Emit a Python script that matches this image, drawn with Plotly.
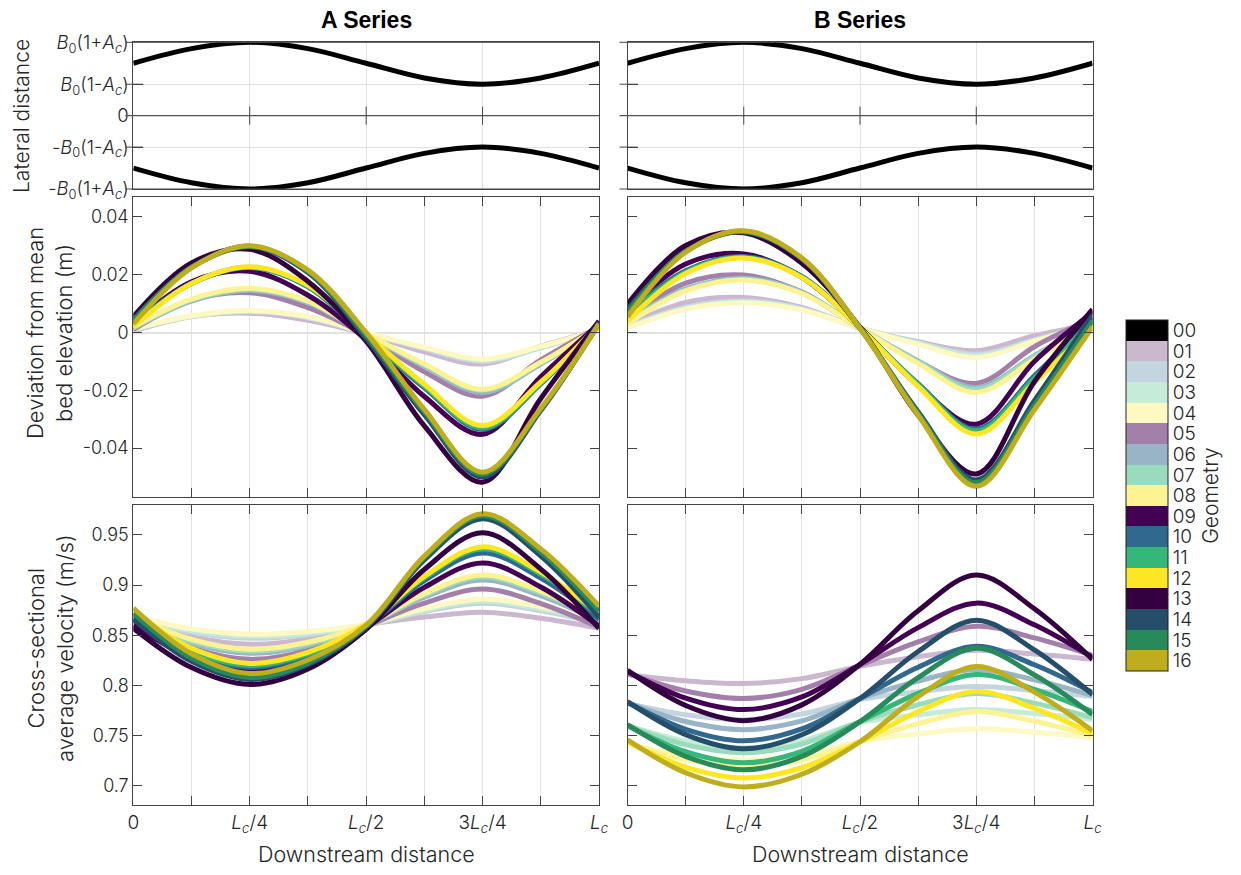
import plotly.graph_objects as go

# ---------------- data ----------------
X = [0, 0.125, 0.25, 0.375, 0.5, 0.625, 0.75, 0.875, 1.0]
X_MAJOR = [0, 0.25, 0.5, 0.75, 1.0]
X_LABELS = ["0", "<i>L</i><sub><i>c</i></sub>/4", "<i>L</i><sub><i>c</i></sub>/2",
            "3<i>L</i><sub><i>c</i></sub>/4", "<i>L</i><sub><i>c</i></sub>"]
GEOMS = ["00", "01", "02", "03", "04", "05", "06", "07", "08", "09", "10", "11", "12", "13", "14", "15", "16"]
COLORS = ["#000000", "#CBB8CF", "#C5D5DF", "#C6EBD9", "#FEF8C2", "#A280AA", "#98B4C6", "#9ADBBC",
          "#FEF392", "#440154", "#31688E", "#35B779", "#FDE725", "#33013F", "#254E6B", "#28895B", "#BEAD1C"]

BANK_UPPER = [1.0, 1.28, 1.4, 1.28, 1.0, 0.72, 0.6, 0.72, 1.0]
BANK_LOWER = [-1.0, -1.28, -1.4, -1.28, -1.0, -0.72, -0.6, -0.72, -1.0]
LAT_TICKS = [-1.4, -0.6, 0, 0.6, 1.4]
LAT_LABELS = ["-<i>B</i><sub>0</sub>(1+<i>A</i><sub><i>c</i></sub>)", "-<i>B</i><sub>0</sub>(1-<i>A</i><sub><i>c</i></sub>)", "0",
              "<i>B</i><sub>0</sub>(1-<i>A</i><sub><i>c</i></sub>)", "<i>B</i><sub>0</sub>(1+<i>A</i><sub><i>c</i></sub>)"]

# bed elevation deviation (m), A series
BED_A_01 = [0.0005, 0.0055, 0.0067, 0.0042, -0.0005, -0.0067, -0.0109, -0.0047, 0.001]
BED_A_02 = [0.001, 0.0055, 0.0072, 0.0051, -0.0002, -0.0056, -0.0100, -0.0053, 0.001]
BED_A_03 = [0.001, 0.0056, 0.0074, 0.0053, -0.0001, -0.0053, -0.0096, -0.0050, 0.001]
BED_A_04 = [0.0012, 0.0058, 0.0076, 0.0055, 0.0, -0.0051, -0.0092, -0.0048, 0.001]
BED_A_05 = [0.001, 0.0112, 0.0138, 0.0086, -0.001, -0.0136, -0.0220, -0.0095, 0.002]
BED_A_06 = [0.0015, 0.0109, 0.0146, 0.0103, -0.0007, -0.0117, -0.0207, -0.0109, 0.002]
BED_A_07 = [0.0017, 0.0113, 0.0150, 0.0107, -0.0005, -0.0112, -0.0200, -0.0105, 0.002]
BED_A_08 = [0.002, 0.0116, 0.0153, 0.0109, -0.0003, -0.0109, -0.0196, -0.0103, 0.002]
BED_A_09 = [0.003, 0.0176, 0.0212, 0.0129, -0.0025, -0.0221, -0.0352, -0.0153, 0.003]
BED_A_10 = [0.003, 0.0170, 0.0225, 0.0158, -0.0015, -0.0191, -0.0335, -0.0178, 0.003]
BED_A_11 = [0.0025, 0.0170, 0.0226, 0.0160, -0.001, -0.0186, -0.0330, -0.0175, 0.003]
BED_A_12 = [0.002, 0.0170, 0.0228, 0.0163, -0.0005, -0.0179, -0.0322, -0.0171, 0.003]
BED_A_13 = [0.0055, 0.0241, 0.0288, 0.0177, -0.003, -0.0323, -0.0518, -0.0228, 0.004]
BED_A_14 = [0.0045, 0.0226, 0.0297, 0.0208, -0.002, -0.0284, -0.0500, -0.0270, 0.0035]
BED_A_15 = [0.004, 0.0226, 0.0299, 0.0212, -0.001, -0.0274, -0.0490, -0.0266, 0.003]
BED_A_16 = [0.003, 0.0224, 0.0300, 0.0216, 0.0, -0.0266, -0.0483, -0.0262, 0.003]

# bed elevation deviation (m), B series
BED_B_01 = [0.0025, 0.0104, 0.0121, 0.0087, 0.0015, -0.0032, -0.0063, -0.0011, 0.003]
BED_B_02 = [0.002, 0.0088, 0.0110, 0.0083, 0.0015, -0.0035, -0.0075, -0.0025, 0.003]
BED_B_03 = [0.0018, 0.0084, 0.0106, 0.0081, 0.0015, -0.0037, -0.0080, -0.0027, 0.003]
BED_B_04 = [0.0015, 0.0081, 0.0103, 0.0078, 0.0015, -0.0041, -0.0086, -0.0030, 0.003]
BED_B_05 = [0.0045, 0.0171, 0.0199, 0.0140, 0.0015, -0.0100, -0.0176, -0.0049, 0.005]
BED_B_06 = [0.004, 0.0151, 0.0188, 0.0140, 0.0015, -0.0098, -0.0190, -0.0080, 0.004]
BED_B_07 = [0.0035, 0.0147, 0.0184, 0.0137, 0.0015, -0.0102, -0.0197, -0.0083, 0.004]
BED_B_08 = [0.003, 0.0144, 0.0182, 0.0135, 0.0015, -0.0107, -0.0207, -0.0093, 0.003]
BED_B_09 = [0.0075, 0.0237, 0.0272, 0.0191, 0.0018, -0.0183, -0.0317, -0.0100, 0.007]
BED_B_10 = [0.0065, 0.0214, 0.0263, 0.0194, 0.0015, -0.0177, -0.0334, -0.0150, 0.005]
BED_B_11 = [0.0055, 0.0209, 0.0260, 0.0191, 0.0015, -0.0180, -0.0340, -0.0158, 0.004]
BED_B_12 = [0.004, 0.0204, 0.0258, 0.0190, 0.0015, -0.0186, -0.0351, -0.0173, 0.002]
BED_B_13 = [0.0098, 0.0301, 0.0345, 0.0240, 0.0018, -0.0286, -0.0489, -0.0170, 0.008]
BED_B_14 = [0.008, 0.0281, 0.0348, 0.0255, 0.0015, -0.0274, -0.0510, -0.0236, 0.006]
BED_B_15 = [0.007, 0.0280, 0.0350, 0.0256, 0.0015, -0.0279, -0.0520, -0.0251, 0.004]
BED_B_16 = [0.0055, 0.0278, 0.0352, 0.0258, 0.0015, -0.0286, -0.0532, -0.0267, 0.002]

# cross-sectional average velocity (m/s), A series
VEL_A_01 = [0.866, 0.8485, 0.841, 0.8463, 0.860, 0.8681, 0.873, 0.8669, 0.857]
VEL_A_02 = [0.867, 0.853, 0.847, 0.8506, 0.860, 0.8736, 0.882, 0.8744, 0.862]
VEL_A_03 = [0.868, 0.8547, 0.849, 0.8521, 0.860, 0.8749, 0.884, 0.8764, 0.864]
VEL_A_04 = [0.869, 0.8564, 0.851, 0.8538, 0.861, 0.8765, 0.886, 0.8784, 0.866]
VEL_A_05 = [0.864, 0.8374, 0.826, 0.8352, 0.859, 0.8819, 0.896, 0.8816, 0.858]
VEL_A_06 = [0.866, 0.8422, 0.832, 0.8398, 0.860, 0.8879, 0.905, 0.8894, 0.864]
VEL_A_07 = [0.867, 0.8439, 0.834, 0.8413, 0.860, 0.8898, 0.908, 0.8920, 0.866]
VEL_A_08 = [0.869, 0.8459, 0.836, 0.8430, 0.861, 0.8914, 0.910, 0.8940, 0.868]
VEL_A_09 = [0.860, 0.8278, 0.814, 0.8263, 0.858, 0.8977, 0.922, 0.8980, 0.859]
VEL_A_10 = [0.866, 0.8324, 0.818, 0.8295, 0.859, 0.9043, 0.932, 0.9069, 0.866]
VEL_A_11 = [0.869, 0.8347, 0.820, 0.8312, 0.860, 0.9071, 0.936, 0.9109, 0.870]
VEL_A_12 = [0.872, 0.837, 0.822, 0.8329, 0.861, 0.9087, 0.938, 0.9129, 0.872]
VEL_A_13 = [0.857, 0.8178, 0.801, 0.8164, 0.856, 0.9155, 0.952, 0.9159, 0.857]
VEL_A_14 = [0.866, 0.824, 0.806, 0.8206, 0.858, 0.925, 0.966, 0.9288, 0.868]
VEL_A_15 = [0.872, 0.8272, 0.808, 0.8223, 0.859, 0.9272, 0.969, 0.9329, 0.874]
VEL_A_16 = [0.877, 0.8315, 0.812, 0.8254, 0.860, 0.9288, 0.971, 0.936, 0.879]

# cross-sectional average velocity (m/s), B series
VEL_B_01 = [0.811, 0.8047, 0.802, 0.8068, 0.819, 0.8286, 0.835, 0.8314, 0.826]
VEL_B_02 = [0.782, 0.7708, 0.766, 0.7716, 0.786, 0.7938, 0.799, 0.795, 0.789]
VEL_B_03 = [0.760, 0.7446, 0.738, 0.745, 0.763, 0.7708, 0.776, 0.772, 0.766]
VEL_B_04 = [0.741, 0.7305, 0.726, 0.731, 0.744, 0.7518, 0.757, 0.7534, 0.748]
VEL_B_05 = [0.812, 0.7945, 0.787, 0.7962, 0.820, 0.8434, 0.859, 0.8474, 0.830]
VEL_B_06 = [0.783, 0.7641, 0.756, 0.7647, 0.787, 0.8044, 0.816, 0.8056, 0.790]
VEL_B_07 = [0.760, 0.7411, 0.733, 0.7417, 0.764, 0.7808, 0.792, 0.7824, 0.768]
VEL_B_08 = [0.743, 0.7262, 0.719, 0.726, 0.744, 0.762, 0.774, 0.7644, 0.750]
VEL_B_09 = [0.814, 0.7874, 0.776, 0.7886, 0.821, 0.8576, 0.882, 0.8604, 0.828]
VEL_B_10 = [0.783, 0.7564, 0.745, 0.7568, 0.787, 0.8182, 0.839, 0.8206, 0.793]
VEL_B_11 = [0.760, 0.7341, 0.723, 0.7345, 0.764, 0.7922, 0.811, 0.7962, 0.774]
VEL_B_12 = [0.744, 0.7188, 0.708, 0.7181, 0.744, 0.774, 0.794, 0.7772, 0.752]
VEL_B_13 = [0.815, 0.780, 0.765, 0.7807, 0.821, 0.8744, 0.910, 0.8764, 0.826]
VEL_B_14 = [0.784, 0.7511, 0.737, 0.751, 0.787, 0.8338, 0.865, 0.8354, 0.791]
VEL_B_15 = [0.761, 0.7295, 0.716, 0.7294, 0.764, 0.8078, 0.837, 0.8106, 0.771]
VEL_B_16 = [0.746, 0.7131, 0.699, 0.7116, 0.744, 0.789, 0.819, 0.7934, 0.755]

BED_TICKS = [-0.04, -0.02, 0, 0.02, 0.04]
BED_LABELS = ["-0.04", "-0.02", "0", "0.02", "0.04"]
VEL_TICKS = [0.7, 0.75, 0.8, 0.85, 0.9, 0.95]
VEL_LABELS = ["0.7", "0.75", "0.8", "0.85", "0.9", "0.95"]

BED_A = [BED_A_01, BED_A_02, BED_A_03, BED_A_04, BED_A_05, BED_A_06, BED_A_07, BED_A_08,
         BED_A_09, BED_A_10, BED_A_11, BED_A_12, BED_A_13, BED_A_14, BED_A_15, BED_A_16]
BED_B = [BED_B_01, BED_B_02, BED_B_03, BED_B_04, BED_B_05, BED_B_06, BED_B_07, BED_B_08,
         BED_B_09, BED_B_10, BED_B_11, BED_B_12, BED_B_13, BED_B_14, BED_B_15, BED_B_16]
VEL_A = [VEL_A_01, VEL_A_02, VEL_A_03, VEL_A_04, VEL_A_05, VEL_A_06, VEL_A_07, VEL_A_08,
         VEL_A_09, VEL_A_10, VEL_A_11, VEL_A_12, VEL_A_13, VEL_A_14, VEL_A_15, VEL_A_16]
VEL_B = [VEL_B_01, VEL_B_02, VEL_B_03, VEL_B_04, VEL_B_05, VEL_B_06, VEL_B_07, VEL_B_08,
         VEL_B_09, VEL_B_10, VEL_B_11, VEL_B_12, VEL_B_13, VEL_B_14, VEL_B_15, VEL_B_16]

# ---------------- layout geometry (page pixels) ----------------
PAGE_W, PAGE_H = 1241, 875
OFF = 8  # default body margin of the html page
W, H = PAGE_W - 2 * OFF, PAGE_H - 2 * OFF
XL = (133.3, 599.0)
XR = (627.5, 1092.5)
YT = (42.3, 189.0)
YM = (196.7, 497.3)
YB = (504.7, 805.0)
FONT = "Inter, Roboto, 'Liberation Sans', Arial, sans-serif"
AX = "#444444"
GRID = "#e2e2e2"
TXT = "#262626"


def fx(px):
    return (px - OFF) / W


def fy(py):
    return 1 - (py - OFF) / H


def dx(p):
    return [fx(p[0]), fx(p[1])]


def dy(p):
    return [fy(p[1]), fy(p[0])]


fig = go.Figure()

# top panels: channel banks
for k in (1, 2):
    for yv in (BANK_UPPER, BANK_LOWER):
        fig.add_trace(go.Scatter(x=X, y=yv, mode="lines", line=dict(color="black", width=5, shape="spline"),
                                 xaxis="x" if k == 1 else "x2", yaxis="y" if k == 1 else "y2",
                                 showlegend=False, hoverinfo="skip"))

panels = [(BED_A, 3), (BED_B, 4), (VEL_A, 5), (VEL_B, 6)]
for data, k in panels:
    for i, ys in enumerate(data):
        fig.add_trace(go.Scatter(x=X, y=ys, mode="lines",
                                 line=dict(color=COLORS[i + 1], width=5, shape="spline", smoothing=1.0),
                                 xaxis=f"x{k}", yaxis=f"y{k}", name=GEOMS[i + 1],
                                 showlegend=False))

# colour bar for geometry
n = len(COLORS)
rev = COLORS[::-1]
cscale = []
for i, c in enumerate(rev):
    cscale.append([i / n, c])
    cscale.append([(i + 1) / n, c])
fig.add_trace(go.Scatter(
    x=[0.5], y=[0], mode="markers", xaxis="x", yaxis="y", showlegend=False, hoverinfo="skip",
    marker=dict(size=0.1, opacity=0, color=[0], colorscale=cscale, cmin=-0.5, cmax=n - 0.5, showscale=True,
                colorbar=dict(x=fx(1126), xanchor="left", y=fy(495.5), yanchor="middle",
                              len=351 / H, lenmode="fraction", thickness=42, thicknessmode="pixels",
                              xpad=0, ypad=0, outlinewidth=1, outlinecolor="#222",
                              tickvals=list(range(n)), ticktext=GEOMS[::-1], ticks="",
                              tickfont=dict(size=19, color=TXT, family=FONT, weight=300),
                              title=dict(text="Geometry", side="right",
                                         font=dict(size=21, color=TXT, family=FONT, weight=300))))))

tickfont = dict(size=18, color=TXT, family=FONT, weight=300)

layout = dict(
    width=W, height=H, margin=dict(l=0, r=0, t=0, b=0, autoexpand=False), paper_bgcolor="white",
    plot_bgcolor="white", font=dict(family=FONT, color=TXT, weight=300), showlegend=False,
)

# top axes
for k, xp in ((1, XL), (2, XR)):
    xs = "xaxis" if k == 1 else "xaxis2"
    ys = "yaxis" if k == 1 else "yaxis2"
    layout[xs] = dict(domain=dx(xp), range=[0, 1], anchor="y" if k == 1 else "y2", automargin=False,
                      tickvals=[0.25, 0.5, 0.75], showticklabels=False, ticks="",
                      showgrid=True, gridcolor=GRID, gridwidth=1, zeroline=False,
                      showline=True, linecolor=AX, linewidth=1, mirror=True)
    layout[ys] = dict(domain=dy(YT), range=[-1.4, 1.4], anchor="x" if k == 1 else "x2", automargin=False,
                      tickvals=LAT_TICKS, ticktext=LAT_LABELS, showticklabels=(k == 1),
                      ticks="inside", ticklen=10, tickcolor=AX, tickwidth=1,
                      showgrid=True, gridcolor=GRID, zeroline=False,
                      tickfont=dict(size=18.5, color=TXT, family=FONT, weight=300),
                      showline=True, linecolor=AX, linewidth=1, mirror="ticks")

for k, xp, yp, tv, tt, rng, lab in (
        (3, XL, YM, BED_TICKS, BED_LABELS, [-0.057, 0.047], True),
        (4, XR, YM, BED_TICKS, BED_LABELS, [-0.057, 0.047], False),
        (5, XL, YB, VEL_TICKS, VEL_LABELS, [0.681, 0.980], True),
        (6, XR, YB, VEL_TICKS, VEL_LABELS, [0.681, 0.980], False)):
    layout[f"xaxis{k}"] = dict(domain=dx(xp), range=[0, 1], anchor=f"y{k}", automargin=False,
                               tickvals=X_MAJOR, ticktext=X_LABELS, showticklabels=(k >= 5),
                               ticks="inside", ticklen=9, tickcolor=AX, tickwidth=1,
                               minor=dict(tick0=0.125, dtick=0.25, ticks="inside", ticklen=9, tickcolor=AX,
                                          showgrid=True, gridcolor=GRID, gridwidth=1),
                               showgrid=True, gridcolor=GRID, gridwidth=1, zeroline=False,
                               tickfont=dict(size=19, color=TXT, family=FONT, weight=300),
                               showline=True, linecolor=AX, linewidth=1, mirror="ticks")
    layout[f"yaxis{k}"] = dict(domain=dy(yp), range=rng, anchor=f"x{k}", automargin=False,
                               tickvals=tv, ticktext=tt, showticklabels=lab,
                               ticks="inside", ticklen=9, tickcolor=AX, tickwidth=1,
                               showgrid=False, zeroline=(k <= 4), zerolinecolor=GRID, zerolinewidth=1.5,
                               tickfont=tickfont,
                               showline=True, linecolor=AX, linewidth=1, mirror="ticks")

# shapes: crossing ticks and zero line in top panels
shapes = []
pw = XL[1] - XL[0]
ph = YT[1] - YT[0]
for k in (1, 2):
    xr = "x domain" if k == 1 else "x2 domain"
    yr = "y domain" if k == 1 else "y2 domain"
    for v in LAT_TICKS:
        f = (v + 1.4) / 2.8
        full = v in (-1.4, 0, 1.4)
        shapes.append(dict(type="line", xref=xr, yref=yr, x0=-8 / pw, x1=1 if full else 10 / pw,
                           y0=f, y1=f, line=dict(color="#555555" if v == 0 else AX, width=1.3 if v == 0 else 1)))
    for xv in (0.25, 0.5, 0.75):
        shapes.append(dict(type="line", xref=xr, yref=yr, x0=xv, x1=xv, y0=0.5 - 9 / ph, y1=0.5 + 9 / ph,
                           line=dict(color=AX, width=1)))
layout["shapes"] = shapes

lab_font = dict(size=22, color=TXT, family=FONT, weight=300)
title_font = dict(size=23, color="black", family="'Liberation Sans', Arial, sans-serif")


def note(text, px, py, font, angle=0):
    return dict(text=text, x=fx(px), y=fy(py), xref="paper", yref="paper", xanchor="center",
                yanchor="middle", textangle=angle, showarrow=False, font=font)


annotations = [
    note("<b>A Series</b>", (XL[0] + XL[1]) / 2, 20, title_font),
    note("<b>B Series</b>", (XR[0] + XR[1]) / 2, 20, title_font),
    note("Lateral distance", 22, 116, dict(size=21, color=TXT, family=FONT, weight=300), -90),
    note("Deviation from mean<br>bed elevation (m)", 50, 333, lab_font, -90),
    note("Cross-sectional<br>average velocity (m/s)", 50, 648, lab_font, -90),
    note("Downstream distance", (XL[0] + XL[1]) / 2, 854, dict(size=21.5, color=TXT, family=FONT, weight=300)),
    note("Downstream distance", (XR[0] + XR[1]) / 2, 854, dict(size=21.5, color=TXT, family=FONT, weight=300)),
]
layout["annotations"] = annotations

fig.update_layout(**layout)
fig.write_html("out.html")
